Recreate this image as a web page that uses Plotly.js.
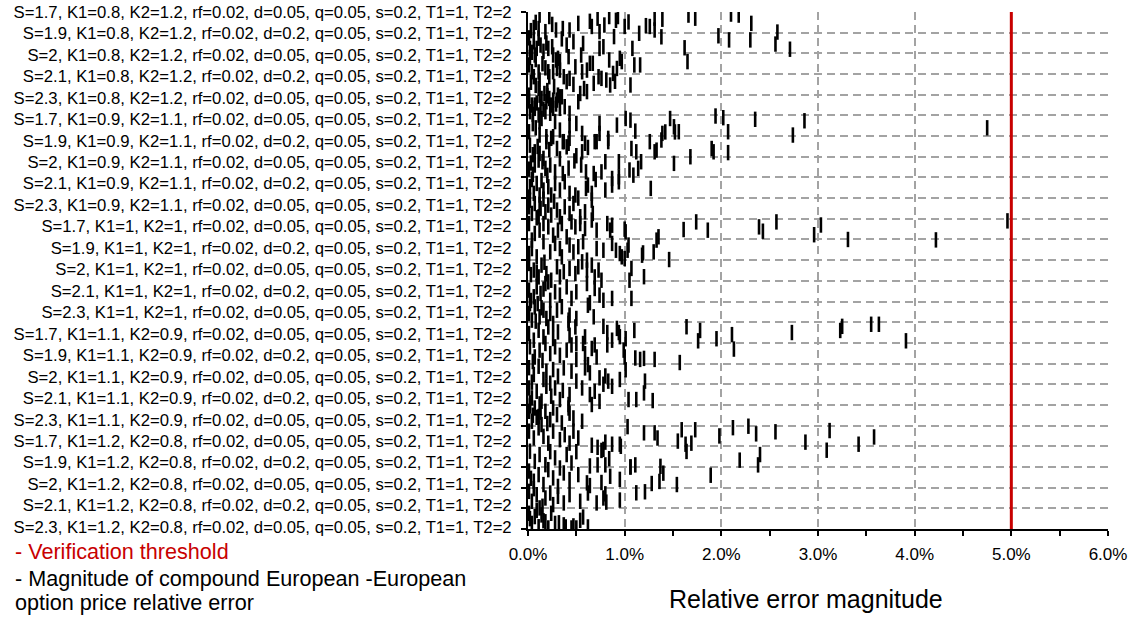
<!DOCTYPE html>
<html><head><meta charset="utf-8">
<script src="https://cdn.plot.ly/plotly-3.0.1.min.js"></script>
<style>html,body{margin:0;padding:0;background:#fff}#chart{width:1141px;height:617px}</style>
</head><body><div id="chart"></div>
<script>
const categories = [
"S=1.7, K1=0.8, K2=1.2, rf=0.02, d=0.05, q=0.05, s=0.2, T1=1, T2=2",
"S=1.9, K1=0.8, K2=1.2, rf=0.02, d=0.2, q=0.05, s=0.2, T1=1, T2=2",
"S=2, K1=0.8, K2=1.2, rf=0.02, d=0.05, q=0.05, s=0.2, T1=1, T2=2",
"S=2.1, K1=0.8, K2=1.2, rf=0.02, d=0.2, q=0.05, s=0.2, T1=1, T2=2",
"S=2.3, K1=0.8, K2=1.2, rf=0.02, d=0.05, q=0.05, s=0.2, T1=1, T2=2",
"S=1.7, K1=0.9, K2=1.1, rf=0.02, d=0.05, q=0.05, s=0.2, T1=1, T2=2",
"S=1.9, K1=0.9, K2=1.1, rf=0.02, d=0.2, q=0.05, s=0.2, T1=1, T2=2",
"S=2, K1=0.9, K2=1.1, rf=0.02, d=0.05, q=0.05, s=0.2, T1=1, T2=2",
"S=2.1, K1=0.9, K2=1.1, rf=0.02, d=0.2, q=0.05, s=0.2, T1=1, T2=2",
"S=2.3, K1=0.9, K2=1.1, rf=0.02, d=0.05, q=0.05, s=0.2, T1=1, T2=2",
"S=1.7, K1=1, K2=1, rf=0.02, d=0.05, q=0.05, s=0.2, T1=1, T2=2",
"S=1.9, K1=1, K2=1, rf=0.02, d=0.2, q=0.05, s=0.2, T1=1, T2=2",
"S=2, K1=1, K2=1, rf=0.02, d=0.05, q=0.05, s=0.2, T1=1, T2=2",
"S=2.1, K1=1, K2=1, rf=0.02, d=0.2, q=0.05, s=0.2, T1=1, T2=2",
"S=2.3, K1=1, K2=1, rf=0.02, d=0.05, q=0.05, s=0.2, T1=1, T2=2",
"S=1.7, K1=1.1, K2=0.9, rf=0.02, d=0.05, q=0.05, s=0.2, T1=1, T2=2",
"S=1.9, K1=1.1, K2=0.9, rf=0.02, d=0.2, q=0.05, s=0.2, T1=1, T2=2",
"S=2, K1=1.1, K2=0.9, rf=0.02, d=0.05, q=0.05, s=0.2, T1=1, T2=2",
"S=2.1, K1=1.1, K2=0.9, rf=0.02, d=0.2, q=0.05, s=0.2, T1=1, T2=2",
"S=2.3, K1=1.1, K2=0.9, rf=0.02, d=0.05, q=0.05, s=0.2, T1=1, T2=2",
"S=1.7, K1=1.2, K2=0.8, rf=0.02, d=0.05, q=0.05, s=0.2, T1=1, T2=2",
"S=1.9, K1=1.2, K2=0.8, rf=0.02, d=0.2, q=0.05, s=0.2, T1=1, T2=2",
"S=2, K1=1.2, K2=0.8, rf=0.02, d=0.05, q=0.05, s=0.2, T1=1, T2=2",
"S=2.1, K1=1.2, K2=0.8, rf=0.02, d=0.2, q=0.05, s=0.2, T1=1, T2=2",
"S=2.3, K1=1.2, K2=0.8, rf=0.02, d=0.05, q=0.05, s=0.2, T1=1, T2=2"
];

// relative error magnitude (%) of each test case, one list per category row
const errorPct = [
[0.12,0.22,0.11,0.29,0.36,0.43,0.52,0.64,0.66,0.72,0.74,0.79,0.84,0.91,0.93,1.0,1.04,1.22,1.26,1.31,1.31,1.39,1.66,1.73,2.1,2.18,2.31,2.58,0.03,0.06,0.18,0.08,0.25],
[0.02,0.06,0.07,0.09,0.11,0.13,0.21,0.25,0.26,0.47,0.55,0.57,0.74,0.78,0.89,1.08,1.15,1.38,1.97,2.08,2.3,1.62,2.56,2.71,0.04,0.16,0.35,0.4,0.01,0.19],
[0.29,0.31,0.33,0.42,0.64,0.84,0.95,0.97,1.1,1.16,1.65,0.01,0.04,0.21,0.26,0.3,0.33,0.49,0.56,0.61,0.67,0.88,0.92,0.08,0.15,0.18,0.02,0.11],
[0.06,0.12,0.22,0.37,0.4,0.43,0.73,0.76,0.81,0.85,1.06,0.11,0.17,0.54,0.61,0.01,0.12,0.31,0.33,0.03,0.27,0.47,0.58,0.68,0.9,0.08,0.2],
[0.04,0.07,0.14,0.19,0.22,0.24,0.26,0.3,0.38,0.52,0.02,0.07,0.11,0.18,0.23,0.26,0.33,0.43,0.01,0.09,0.16,0.29,0.35,0.05,0.13,0.2],
[0.12,0.14,0.01,0.12,0.19,0.24,0.33,0.5,0.56,0.74,0.74,0.83,0.92,1.01,1.06,1.11,1.39,1.47,1.51,1.56,1.94,2.02,2.07,2.35,2.74,2.86,4.75,0.05,0.08,0.28,0.43,1.42,1.52],
[0.37,0.42,0.59,0.69,1.26,1.33,0.02,0.07,0.12,0.19,0.26,0.3,0.36,0.4,0.43,0.56,0.71,0.83,1.07,1.12,1.31,1.68,1.9,1.92,2.07,1.38,0.05,0.1,0.22,0.5,0.62],
[0.16,1.17,1.51,0.07,0.11,0.15,0.18,0.23,0.28,0.36,0.55,0.6,0.68,0.76,0.8,0.87,0.94,1.09,1.14,0.94,1.05,0.03,0.42,0.48,0.33,0.05,0.01,0.2],
[1.27,0.8,0.87,0.94,0.62,0.66,0.6,0.02,0.06,0.09,0.12,0.16,0.21,0.24,0.28,0.33,0.38,0.43,0.49,0.52,0.7,0.04,0.01,0.14],
[0.01,0.04,0.07,0.11,0.13,0.18,0.21,0.24,0.3,0.33,0.38,0.43,0.47,0.54,0.59,0.66,0.67,0.16,0.27,0.02,0.09,0.12],
[1.61,1.74,1.86,2.39,2.43,2.57,2.96,3.03,3.31,4.22,4.96,1.0,0.82,0.85,0.87,1.01,1.35,0.01,0.04,0.07,0.12,0.16,0.21,0.26,0.31,0.35,0.4,0.45,0.49,0.54,0.59,0.66,0.71],
[1.33,1.3,1.46,1.18,1.04,1.03,0.97,1.0,0.91,0.95,0.87,0.78,0.71,0.57,0.52,0.47,0.43,0.33,0.28,0.23,0.16,0.09,0.04,0.01,0.35,0.61,1.19],
[1.07,1.2,1.05,0.01,0.06,0.11,0.14,0.19,0.24,0.3,0.33,0.37,0.49,0.52,0.61,0.66,0.69,0.73,0.76,0.56,0.43,0.09,0.03,0.17],
[1.07,0.87,0.01,0.06,0.09,0.13,0.18,0.23,0.28,0.33,0.4,0.5,0.61,0.64,0.69,0.74,0.78,0.45,0.16,0.03,0.21],
[0.01,0.04,0.07,0.12,0.16,0.19,0.23,0.26,0.3,0.42,0.43,0.5,0.62,0.68,0.35,0.1,0.02,0.08,0.14],
[1.64,1.78,1.76,1.95,2.11,2.73,3.23,3.25,3.55,3.63,3.91,1.1,1.01,0.92,0.94,0.95,0.78,0.82,0.87,0.01,0.06,0.11,0.16,0.21,0.26,0.31,0.42,0.43,0.49,0.5,0.59,0.69],
[2.13,1.57,1.31,1.2,1.16,1.11,1.0,0.99,0.02,0.07,0.12,0.18,0.23,0.28,0.33,0.4,0.45,0.57,0.59,0.66,0.71,0.82,0.05,0.15,0.5],
[1.01,1.21,0.95,0.87,0.83,0.8,0.74,0.78,0.01,0.06,0.11,0.16,0.19,0.26,0.31,0.37,0.45,0.5,0.59,0.62,0.64,0.04,0.23],
[1.04,1.12,1.2,1.29,0.74,0.66,0.69,0.64,0.01,0.04,0.09,0.14,0.19,0.24,0.28,0.33,0.42,0.43,0.56,0.12,0.36,0.02],
[0.56,0.01,0.04,0.07,0.11,0.14,0.18,0.23,0.26,0.3,0.35,0.42,0.43,0.47,0.2,0.09,0.02,0.05,0.13],
[1.03,1.2,1.31,1.34,1.59,1.73,1.55,1.63,1.69,1.98,2.12,2.28,2.36,2.56,2.87,3.12,3.42,3.58,0.95,0.8,0.87,0.66,0.72,0.01,0.06,0.11,0.16,0.21,0.26,0.33,0.38,0.43,0.47,0.52],
[2.19,2.38,2.4,1.64,3.09,1.37,1.11,1.06,0.8,0.84,0.78,0.72,0.64,0.76,0.02,0.07,0.12,0.18,0.23,0.28,0.33,0.4,0.45,0.5,0.96],
[1.89,1.54,1.4,1.28,1.36,0.95,0.64,0.76,1.06,0.01,0.06,0.11,0.16,0.21,0.26,0.31,0.37,0.43,0.52,0.61,0.85,0.03],
[1.21,1.12,0.95,0.8,0.81,0.78,0.01,0.04,0.09,0.12,0.18,0.23,0.26,0.31,0.37,0.43,0.54,0.62,0.71,0.06,0.15],
[0.62,0.57,0.54,0.5,0.47,0.45,0.39,0.37,0.32,0.01,0.04,0.07,0.11,0.14,0.18,0.21,0.24,0.28,0.02,0.09,0.16]
];

// vertical position of each test case inside its category band (0 = band top, 1 = band bottom)
const rowOffset = [
[0.15,0.22,0.8,0.87,0.8,0.87,0.55,0.45,0.7,0.3,0.95,0.63,0.22,0.4,0.22,0.7,0.48,0.66,0.7,0.3,0.87,0.35,0.15,0.3,0.1,0.15,0.55,0.97,0.9,0.75,0.95,0.5,0.6],
[0.76,0.44,1.08,0.76,0.27,0.6,0.76,0.68,1.08,0.44,1.08,0.52,0.76,0.68,0.19,0.76,0.03,0.2,0.15,0.35,0.35,0.73,0.55,0.8,0.95,0.9,0.3,0.6,0.25,0.5],
[0.32,0.24,0.4,0.16,0.48,0.32,0.24,0.4,0.56,0.56,0.4,0.56,0.89,0.89,0.89,0.73,0.81,0.65,0.89,0.81,0.48,0.97,0.73,0.3,0.5,0.7,0.2,0.9],
[0.13,0.29,0.13,0.13,0.37,0.21,0.13,0.21,0.29,0.53,0.53,0.69,0.94,0.94,0.85,1.02,1.02,1.02,1.1,0.4,0.6,0.5,0.7,0.45,0.35,0.55,0.8],
[0.5,0.66,0.18,0.34,0.18,0.5,0.26,0.26,0.58,0.34,0.82,0.5,0.98,0.82,0.9,0.66,0.66,0.9,0.3,0.4,0.7,0.45,0.1,0.95,0.6,0.05],
[0.31,0.15,0.79,0.95,1.03,1.11,0.71,0.39,0.87,0.39,0.87,1.11,0.47,0.15,0.23,0.76,0.87,0.15,0.55,0.79,0.03,0.11,0.79,0.19,0.95,0.26,0.6,0.4,0.6,0.3,0.5,0.8,0.8],
[0.27,0.35,0.35,0.27,0.27,0.68,0.44,0.76,0.84,0.27,0.03,0.6,0.27,0.52,0.11,0.76,0.27,0.27,0.6,0.76,0.76,1.0,0.6,0.76,0.8,0.19,0.9,0.5,0.65,0.95,0.55],
[0.08,0.24,0.32,0.4,0.16,0.24,0.56,0.4,0.73,0.81,0.4,0.73,0.81,0.73,0.24,1.05,0.97,0.89,0.56,0.24,0.64,0.3,0.55,0.2,0.1,0.85,0.6,0.9],
[0.53,0.61,0.37,0.21,0.37,0.77,0.53,0.45,0.77,0.29,0.85,0.61,0.45,0.85,0.29,0.61,0.21,0.77,0.85,1.0,0.1,0.1,0.95,0.15],
[0.42,0.74,0.26,0.9,0.5,0.66,0.34,0.82,0.58,0.9,0.42,0.74,0.26,0.9,0.66,0.1,0.74,0.05,0.15,0.1,0.95,0.3],
[0.52,0.15,0.55,0.39,0.6,0.15,0.77,0.3,1.0,1.02,0.1,0.5,0.23,0.55,0.31,0.63,0.87,0.23,1.03,0.71,0.55,0.23,0.39,0.79,0.55,0.23,0.87,0.15,0.39,0.23,0.47,0.06,0.55],
[0.03,0.6,0.97,0.76,0.27,0.52,0.84,0.92,0.52,0.68,0.19,0.52,0.44,0.11,0.35,0.6,0.27,0.44,0.19,0.6,0.11,0.84,0.44,0.68,0.84,1.0,0.65],
[0.4,0.8,0.97,0.16,0.48,0.81,0.24,0.65,0.97,0.32,0.81,0.56,0.65,0.32,0.48,0.24,0.81,0.48,0.97,0.08,0.4,0.6,0.7,0.1],
[0.85,0.85,0.45,0.77,0.29,0.61,0.13,0.94,0.53,0.69,0.29,0.53,0.13,1.06,0.37,0.69,0.94,0.85,0.4,0.95,0.05],
[0.58,0.9,0.26,0.74,0.42,0.82,0.58,1.06,0.42,0.9,0.66,0.82,0.18,0.74,0.25,0.1,0.1,0.95,0.3],
[0.22,0.4,0.9,0.8,0.6,0.5,0.4,0.2,0.1,0.1,0.9,0.4,0.8,0.3,0.5,0.7,0.2,0.5,0.87,0.55,0.87,0.39,0.71,0.23,0.79,0.47,0.06,0.63,0.23,1.03,0.71,1.1],
[0.3,0.95,0.8,0.75,0.8,0.73,0.68,0.35,0.19,0.68,0.35,0.03,0.52,0.19,0.6,0.35,0.1,0.03,0.52,0.27,0.68,0.1,0.9,0.85,0.8],
[0.3,0.85,0.77,1.1,0.85,0.6,0.69,1.0,0.2,0.53,0.13,0.77,0.37,0.29,0.61,0.21,0.37,0.85,0.21,0.05,0.45,0.9,0.95],
[0.74,0.74,0.42,0.79,0.83,0.98,0.34,0.5,0.18,0.66,0.34,0.82,0.1,0.58,0.18,0.74,0.98,0.5,0.18,0.95,0.3,0.9],
[0.79,0.31,0.79,0.15,0.56,0.95,0.31,0.71,0.15,0.47,0.87,0.15,0.4,0.63,0.9,0.6,0.05,0.5,0.35],
[0.05,0.35,0.35,0.6,0.2,0.2,0.75,0.9,0.85,0.5,0.1,0.03,0.4,0.3,0.8,0.24,0.9,0.55,0.9,0.8,0.9,0.95,1.05,0.27,0.6,0.11,0.52,0.85,0.27,0.68,0.44,0.85,0.27,0.6],
[0.67,0.9,0.4,0.25,0.19,0.97,0.9,1.0,0.9,0.6,0.15,0.9,0.95,0.2,0.24,0.73,0.4,0.89,0.26,0.56,1.05,0.4,0.81,0.26,0.0],
[0.4,0.85,0.3,0.8,0.7,0.6,0.9,0.75,0.0,0.2,0.69,0.37,0.85,0.13,0.53,0.94,0.29,0.61,0.37,0.77,0.45,0.55],
[0.2,0.25,0.6,0.3,0.7,0.5,0.18,0.66,0.34,0.98,0.5,0.26,0.82,0.42,0.74,0.34,0.66,0.26,0.74,0.05,0.9],
[0.9,0.42,0.58,0.95,0.85,0.95,0.9,0.8,0.7,0.24,0.73,0.4,0.89,0.32,0.65,0.95,0.24,0.73,0.5,0.1,0.6]
];

const thresholdPct = 5;          // verification threshold (%)
const xMaxPct = 6;               // axis maximum (%)
const legendLabels = ["- Verification threshold", "- Magnitude of compound European -European", "option price relative error"];
const xTitle = "Relative error magnitude";

const xs = [], ys = [];
errorPct.forEach((row, i) => {
  const off = rowOffset[i];
  const n = Math.min(row.length, off.length);
  for (let k = 0; k < n; k++) { xs.push(row[k] / 100); ys.push(i + off[k]); }
});
const nRows = categories.length;
const labelPos = categories.map((_, i) => i * 24.9 / (nRows - 1));

const FONT = '"Liberation Sans", Arial, Helvetica, sans-serif';
const GRID = '#a3a3a3';

const traces = [
  { type: 'scatter', mode: 'markers', x: xs, y: ys, hoverinfo: 'skip',
    marker: { symbol: 'line-ns', size: 11, color: '#000', line: { color: '#000', width: 2.6 } } },
  { type: 'scatter', mode: 'lines', x: [thresholdPct / 100, thresholdPct / 100], y: [0, nRows], yaxis: 'y2',
    line: { color: '#c80000', width: 3 }, hoverinfo: 'skip' }
];

const layout = {
  width: 1141, height: 617,
  margin: { l: 528, r: 33, t: 12, b: 87.5, pad: 0 },
  paper_bgcolor: '#fff', plot_bgcolor: '#fff',
  font: { family: FONT, size: 17, color: '#000' },
  showlegend: false,
  xaxis: {
    range: [0, xMaxPct / 100], tickmode: 'linear', tick0: 0, dtick: 0.01, tickformat: '.1%',
    ticks: 'outside', ticklen: 5, tickwidth: 2, tickcolor: '#000',
    showline: true, linecolor: '#000', linewidth: 2,
    showgrid: true, gridcolor: GRID, gridwidth: 2, griddash: '8px,5px', zeroline: false,
    minor: { tickmode: 'linear', tick0: 0, dtick: 0.005, ticks: 'outside', ticklen: 5, tickwidth: 2, tickcolor: '#000', showgrid: false },
    tickfont: { size: 17, family: FONT, color: '#000' }, ticklabelstandoff: 4
  },
  yaxis: {
    range: [nRows, 0], tickmode: 'linear', tick0: 0, dtick: 1,
    ticks: 'outside', ticklen: 5, tickwidth: 2, tickcolor: '#000', showticklabels: false,
    showline: true, linecolor: '#000', linewidth: 2,
    showgrid: true, gridcolor: GRID, gridwidth: 2, griddash: '8px,5px', zeroline: false
  },
  yaxis2: {
    overlaying: 'y', side: 'left', range: [nRows, 0], tickmode: 'array',
    tickvals: labelPos, ticktext: categories,
    ticks: 'outside', ticklen: 12, tickcolor: 'rgba(0,0,0,0)',
    showgrid: false, showline: false, zeroline: false,
    tickfont: { size: 16.7, family: FONT, color: '#000' }
  },
  annotations: [
    { xref: 'paper', yref: 'paper', x: (13 - 528) / 580, y: (529.5 - 552) / 517.5, xanchor: 'left', yanchor: 'middle',
      text: legendLabels[0], showarrow: false, font: { size: 21.6, color: '#c80000', family: FONT } },
    { xref: 'paper', yref: 'paper', x: (13 - 528) / 580, y: (529.5 - 579) / 517.5, xanchor: 'left', yanchor: 'middle',
      text: legendLabels[1], showarrow: false, font: { size: 21.6, color: '#000', family: FONT } },
    { xref: 'paper', yref: 'paper', x: (13 - 528) / 580, y: (529.5 - 603) / 517.5, xanchor: 'left', yanchor: 'middle',
      text: legendLabels[2], showarrow: false, font: { size: 21.6, color: '#000', family: FONT } },
    { xref: 'paper', yref: 'paper', x: (806 - 528) / 580, y: (529.5 - 600) / 517.5, xanchor: 'center', yanchor: 'middle',
      text: xTitle, showarrow: false, font: { size: 25, color: '#000', family: FONT } }
  ]
};

Plotly.newPlot('chart', traces, layout, { staticPlot: true, displayModeBar: false });
</script>
</body></html>
